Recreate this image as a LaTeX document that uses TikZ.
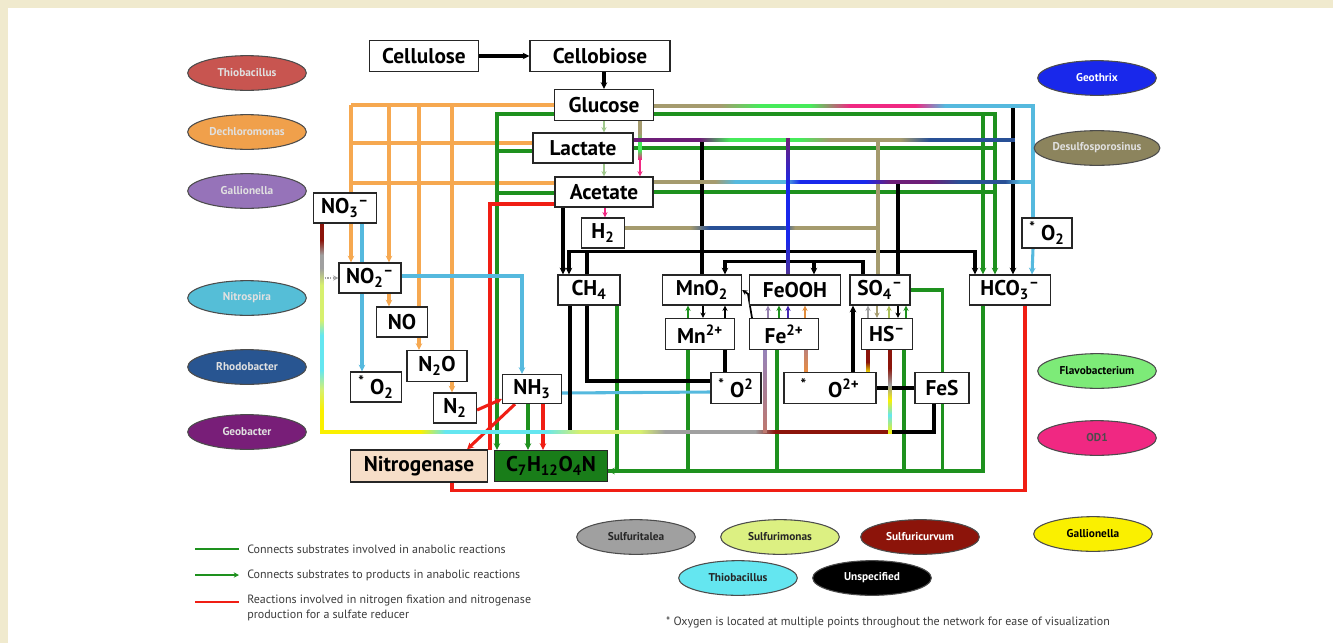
\documentclass[tikz,border=0pt]{standalone}
\usepackage{fontspec}
\setmainfont{PT Sans}
\usetikzlibrary{arrows.meta,shapes.geometric,calc}
\pgfdeclarelayer{back}
\pgfdeclarelayer{bg}
\pgfsetlayers{back,bg,main}
\definecolor{beige}{RGB}{240,234,206}
\definecolor{cOrange}{RGB}{246,168,80}
\definecolor{cLBlue}{RGB}{85,185,222}
\definecolor{cGreen}{RGB}{30,145,30}
\definecolor{cRed}{RGB}{240,30,20}
\definecolor{cOlive}{RGB}{165,155,110}
\definecolor{cPurple}{RGB}{110,30,120}
\definecolor{cNeon}{RGB}{70,235,90}
\definecolor{cPink}{RGB}{240,40,130}
\definecolor{cBlue}{RGB}{25,40,235}
\definecolor{cDBlue}{RGB}{40,80,150}
\definecolor{cDRed}{RGB}{140,20,10}
\definecolor{cGray}{RGB}{160,160,160}
\definecolor{cLYG}{RGB}{215,240,110}
\definecolor{cCyan}{RGB}{100,230,240}
\definecolor{cYellow}{RGB}{250,240,0}
\definecolor{cPeach}{RGB}{246,222,200}
\definecolor{cDGreen}{RGB}{25,125,25}
\definecolor{cThio}{RGB}{200,85,80}
\definecolor{cDech}{RGB}{240,160,75}
\definecolor{cGall}{RGB}{150,115,185}
\definecolor{cNitro}{RGB}{85,190,215}
\definecolor{cRhodo}{RGB}{40,85,145}
\definecolor{cGeob}{RGB}{120,30,120}
\definecolor{cFlavo}{RGB}{125,235,120}
\definecolor{cSulfi}{RGB}{220,240,130}
\definecolor{cTxt}{RGB}{60,60,60}
\newcommand\hg[5]{\shade[left color=#4,right color=#5] (#2,#1-1.8) rectangle (#3,#1+1.8);}
\newcommand\vg[5]{\shade[top color=#4,bottom color=#5] (#1-1.8,#2) rectangle (#1+1.8,#3);}
\begin{document}
\begin{tikzpicture}[x=0.75pt,y=-0.75pt,
  box/.style={draw=black!85,fill=white,line width=0.9pt,inner sep=0pt,font=\fontsize{16}{18}\selectfont\bfseries},
  wh/.style 2 args={minimum width=#1*0.75pt,minimum height=#2*0.75pt},
  sx/.style={xshift=#1*0.75pt},
  sy/.style={yshift=#1*0.75pt},
  con/.style={line width=2.3pt},
  arw/.style={-{Stealth[length=5pt,width=5pt]}},
  arwb/.style={{Stealth[length=5pt,width=5pt]}-{Stealth[length=5pt,width=5pt]}},
  arwr/.style={{Stealth[length=5pt,width=5pt]}-},
  sm/.style={line width=1.8pt,-{Stealth[length=4pt,width=4pt]}},
  org/.style={con,draw=cOrange},
  lbl/.style={con,draw=cLBlue},
  grn/.style={con,draw=cGreen},
  rdl/.style={con,draw=cRed},
  blk/.style={con,draw=black},
  olv/.style={con,draw=cOlive},
  bug/.style={ellipse,draw=black!70,line width=0.8pt,minimum width=89pt,minimum height=26pt,inner sep=0pt,font=\fontsize{8.5}{10}\selectfont\bfseries},
  leg/.style={font=\fontsize{9}{11}\selectfont,text=cTxt,inner sep=0pt}
]
\begin{pgfonlayer}{back}
\fill[beige] (0,0) rectangle (1333,643);
\fill[white] (8,8) rectangle (1333,643);
\end{pgfonlayer}
\useasboundingbox (0,0) rectangle (1333,643);

% ---------------- nodes ----------------
\node[box,wh={109}{31}] (cellulose) at (424,56) {Cellulose};
\node[box,wh={140}{31}] (cellobiose) at (600,56) {Cellobiose};
\node[box,wh={99}{31}] (glucose) at (604,105) {Glucose};
\node[box,wh={100}{30}] (lactate) at (583,148) {Lactate};
\node[box,wh={98}{30}] (acetate) at (604,192) {Acetate};
\node[box,wh={43}{30}] (h2) at (603,233) {H\textsubscript{2}};
\node[box,wh={63}{30}] (no3) at (345,208) {NO\textsubscript{3}\textsuperscript{–}};
\node[box,wh={62}{30}] (no2) at (370,278) {NO\textsubscript{2}\textsuperscript{–}};
\node[box,wh={51}{30}] (no) at (402,322) {NO};
\node[box,wh={60}{31}] (n2o) at (437,366) {N\textsubscript{2}O};
\node[box,wh={51}{30}] (o2a) at (376,387) {\textsuperscript{*} O\textsubscript{2}};
\node[box,wh={43}{30}] (n2) at (455,408) {N\textsubscript{2}};
\node[box,wh={59}{29}] (nh3) at (532,389) {NH\textsubscript{3}};
\node[box,fill=cPeach,wh={137}{32}] (nitrogenase) at (419,466) {Nitrogenase};
\node[box,fill=cDGreen,wh={113}{31}] (c7) at (551,466) {C\textsubscript{7}H\textsubscript{12}O\textsubscript{4}N};
\node[box,wh={62}{30}] (ch4) at (589,290) {CH\textsubscript{4}};
\node[box,wh={79}{30}] (mno2) at (702,290) {MnO\textsubscript{2}};
\node[box,wh={91}{30}] (feooh) at (795,290) {FeOOH};
\node[box,wh={60}{30}] (so4) at (880,290) {SO\textsubscript{4}\textsuperscript{–}};
\node[box,wh={81}{30}] (hco3) at (1010,290) {HCO\textsubscript{3}\textsuperscript{–}};
\node[box,wh={69}{31}] (mn2) at (700,334) {Mn\textsuperscript{2+}};
\node[box,wh={69}{31}] (fe2) at (784,334) {Fe\textsuperscript{2+}};
\node[box,wh={51}{31}] (hs) at (887,334) {HS\textsuperscript{–}};
\node[box,wh={50}{31}] (o2b) at (736,388) {\textsuperscript{*} O\textsuperscript{2}};
\node[box,wh={92}{31}] (o2c) at (830,388) {\textsuperscript{*}\quad O\textsuperscript{2+}};
\node[box,wh={54}{31}] (fes) at (942,388) {FeS};
\node[box,wh={50}{30}] (o2d) at (1047,233) {\textsuperscript{*} O\textsubscript{2}};

% junction coordinates
\coordinate (oA) at (351,105);
\coordinate (oA2) at (351,143);
\coordinate (oA3) at (351,183);
\coordinate (oB) at (389,105);
\coordinate (oC) at (419,105);
\coordinate (oD) at (452,105);
\coordinate (gL) at (497,151);
\coordinate (gA) at (497,193);
\coordinate (gR) at (995,148);
\coordinate (gR2) at (995,192);
\coordinate (g983) at (983,114);
\coordinate (rEnd) at (490,450);
\coordinate (bl1) at (702,140);
\coordinate (bl2) at (898,182);
\coordinate (bl3) at (1013,108);
\coordinate (fd) at (814,262);
\coordinate (olvT) at (878,140);
\coordinate (lbT) at (1033,106);
\coordinate (hsB) at (888,432);
\coordinate (dotS) at (322,278);
\coordinate (pk) at (640,158);

\begin{pgfonlayer}{bg}
% orange (denitrification)
\draw[org] (glucose.west) -- (oA);
\draw[org] ([sy=5]lactate.west) -- (oA2);
\draw[org] ([sy=9]acetate.west) -- (oA3);
\draw[org,arw] (oA) -- ([sx=-19]no2.north);
\draw[org,arw] (oB) -- ([sx=19]no2.north);
\draw[org,arw] ([sx=19]no2.south) -- ([sx=-13]no.north);
\draw[org,arw] (oC) -- ([sx=-18]n2o.north);
\draw[org,arw] (oD) -- ([sx=-3]n2.north);

% green frame
\draw[grn,arw] ([sy=-9]glucose.west) -| ([sx=-54]c7.north);
\draw[grn] ([sy=-3]lactate.west) -- (gL);
\draw[grn] ([sy=-1]acetate.west) -- (gA);
\draw[grn,arw] ([sy=-9]glucose.east) -| ([sx=-15]hco3.north);
\draw[grn,arw] (g983) -- ([sx=-27]hco3.north);
\draw[grn] (lactate.east) -- (gR);
\draw[grn] (acetate.east) -- (gR2);
\draw[grn,arwr] ([sy=-5]c7.east) -| ([sx=-27]hco3.south);
\draw[grn] ([sx=28]ch4.south) |- ([sy=-5]c7.east);
\draw[grn] ([sx=-12]mn2.south) |- ([sy=-5]c7.east);
\draw[grn] ([sx=-7]fe2.south) |- ([sy=-5]c7.east);
\draw[grn] ([sx=17]hs.south) |- ([sy=-5]c7.east);
\draw[grn] (so4.east) -- ++(32,0) |- ([sy=-5]c7.east);
\draw[grn,arw] ([sx=-4]nh3.south) -- ([sx=-23]c7.north);
\draw[grn,sm] ([sx=-12]mn2.north) -- ([sx=-14]mno2.south);

% red
\draw[rdl] ([sy=-12]acetate.west) -| (rEnd);
\draw[rdl,arw] ([sy=-2]n2.east) -- ([sy=-10]nh3.west);
\draw[rdl,arw] ([sx=-17]nh3.south) -- ([sx=48]nitrogenase.north);
\draw[rdl,arw] ([sx=11]nh3.south) -- ([sx=-8]c7.north);
\draw[rdl] ([sx=33]nitrogenase.south) -- ++(0,8) -| ([sx=15]hco3.south);

% light blue
\draw[lbl,arw] ([sx=17]no3.south) -- ([sx=-14]o2a.north);
\draw[lbl,arw] ([sy=2]no2.east) -| ([sx=-10]nh3.north);
\draw[lbl] ([sy=-4]nh3.east) -- ([sy=-4]o2b.west);
\draw[lbl] (lbT) -- ([sx=-14]o2d.north);
\draw[lbl,arw] ([sx=-14]o2d.south) -- ([sx=22]hco3.north);

% black
\draw[line width=3pt,arw] (cellulose) -- (cellobiose);
\draw[blk,arw] ([sx=4]cellobiose.south) -- (glucose.north);
\draw[blk,arw] ([sx=-41]acetate.south) -- ([sx=-26]ch4.north);
\draw[blk,arwb] ([sx=-20]ch4.north) -- ++(0,-23) -| ([sx=-35]hco3.north);
\draw[blk] ([sx=-2]ch4.north) -- ++(0,-23);
\draw[blk] ([sx=-19]ch4.south) -- ++(0,127);
\draw[blk] ([sx=-2]ch4.south) |- ([sy=7]o2b.west);
\draw[blk,arw] ([sx=-17]so4.north) -- ++(0,-13) -| ([sx=23]mno2.north);
\draw[blk,arw] (fd) -- ([sx=19]feooh.north);
\draw[blk] (bl1) -- (mno2.north);
\draw[blk] (bl2) -- ([sx=18]so4.north);
\draw[blk,arw] (bl3) -- ([sx=3]hco3.north);
\draw[blk,sm] ([sx=1]mno2.south) -- ([sx=3]mn2.north);
\draw[blk,sm] ([sx=25]mn2.north) -- ([sx=23]mno2.south);
\draw[blk] ([sx=-11]o2b.north) -- ([sx=25]mn2.south);
\draw[line width=1.3pt,-{Stealth[length=4pt,width=4pt]}] ([sx=-32]fe2.north) -- ++(-4,-24) -- (mno2.east);
\draw[blk,arw] ([sx=23]o2c.north) -- ([sx=-27]so4.south);
\draw[blk] (o2c.east) -- (fes.west);
\draw[blk] (hsB) -| ([sx=-8]fes.south);
\draw[sm,draw=black] ([sx=18]so4.south) -- ([sx=11]hs.north);

% olive
\draw[olv] (olvT) -- ([sx=-2]so4.north);
\draw[sm,draw=cOlive] ([sx=-3]so4.south) -- ([sx=-10]hs.north);

% small coloured arrows Fe2+ -> FeOOH and HS- -> SO4-
\draw[sm,draw={rgb,255:red,150;green,130;blue,175}] ([sx=-16]fe2.north) -- ([sx=-27]feooh.south);
\draw[sm,draw=cGreen] ([sx=-5]fe2.north) -- ([sx=-16]feooh.south);
\draw[sm,draw={rgb,255:red,70;green,40;blue,180}] ([sx=4]fe2.north) -- ([sx=-7]feooh.south);
\draw[sm,draw={rgb,255:red,225;green,140;blue,60}] ([sx=21]fe2.north) -- ([sx=10]feooh.south);
\draw[sm,draw=cGray] ([sx=-19]hs.north) -- ([sx=-12]so4.south);
\draw[sm,draw=cLYG!80!black] ([sx=2]hs.north) -- ([sx=9]so4.south);
\draw[sm,draw=cGreen] ([sx=19]hs.north) -- ([sx=26]so4.south);

% small arrows between sugars
\draw[sm,draw={rgb,255:red,160;green,200;blue,140}] (glucose.south) -- ([sx=21]lactate.north);
\draw[sm,draw={rgb,255:red,160;green,200;blue,140}] ([sx=21]lactate.south) -- (acetate.north);
\draw[sm,draw=cPink] ([sx=1]acetate.south) -- ([sx=2]h2.north);
\draw[sm,draw=cPink] (pk) -- ([sx=36]acetate.north);
\draw[line width=1pt,densely dotted,draw=cGray,-{Stealth[length=4pt,width=4pt]}] (dotS) -- (no2.west);

% multicoloured rows (shaded)
\vg{640}{121}{133}{cOlive}{cOlive}
\vg{640}{133}{142}{cOlive}{cNeon}
\vg{640}{142}{150}{cNeon}{cNeon}
\vg{640}{150}{159}{cNeon}{cPink}
\hg{106}{653}{720}{cOlive}{cOlive}
\hg{106}{720}{760}{cOlive}{cNeon}
\hg{106}{760}{810}{cNeon}{cNeon}
\hg{106}{810}{850}{cNeon}{cPink}
\hg{106}{850}{915}{cPink}{cPink}
\hg{106}{915}{945}{cPink}{cLBlue}
\hg{106}{945}{1034.8}{cLBlue}{cLBlue}
\hg{140}{633}{700}{cPurple}{cPurple}
\hg{140}{700}{730}{cPurple}{cNeon}
\hg{140}{730}{800}{cNeon}{cNeon}
\hg{140}{800}{830}{cNeon}{cOlive}
\hg{140}{830}{900}{cOlive}{cOlive}
\hg{140}{900}{930}{cOlive}{cDBlue}
\hg{140}{930}{1014.8}{cDBlue}{cDBlue}
\hg{182}{653}{715}{cOlive}{cOlive}
\hg{182}{715}{735}{cOlive}{cLBlue}
\hg{182}{735}{785}{cLBlue}{cLBlue}
\hg{182}{785}{800}{cLBlue}{cBlue}
\hg{182}{800}{865}{cBlue}{cBlue}
\hg{182}{865}{890}{cBlue}{cPurple}
\hg{182}{890}{930}{cPurple}{cPurple}
\hg{182}{930}{960}{cPurple}{cDBlue}
\hg{182}{960}{1005}{cDBlue}{cDBlue}
\hg{182}{1005}{1020}{cDBlue}{cLBlue}
\hg{182}{1020}{1034.8}{cLBlue}{cLBlue}
\hg{228}{625}{690}{cOlive}{cOlive}
\hg{228}{690}{710}{cOlive}{cDBlue}
\hg{228}{710}{783}{cDBlue}{cDBlue}
\hg{228}{783}{795}{cDBlue}{cOlive}
\hg{228}{795}{879.8}{cOlive}{cOlive}
\vg{788}{138.2}{185}{cPurple}{cBlue}
\vg{788}{185}{240}{cBlue}{cBlue}
\vg{788}{240}{275}{cBlue}{{rgb,255:red,80;green,50;blue,150}}
% left vertical and bottom line
\vg{322}{223}{240}{cDRed}{cDRed}
\vg{322}{240}{255}{cDRed}{cGray}
\vg{322}{255}{268}{cGray}{cGray}
\vg{322}{268}{285}{cGray}{cLYG}
\vg{322}{285}{320}{cLYG}{cLYG}
\vg{322}{320}{335}{cLYG}{cCyan}
\vg{322}{335}{370}{cCyan}{cCyan}
\vg{322}{370}{390}{cCyan}{cLYG}
\vg{322}{390}{410}{cLYG}{cYellow}
\vg{322}{410}{433.8}{cYellow}{cYellow}
\hg{432}{320.2}{420}{cYellow}{cYellow}
\hg{432}{420}{445}{cYellow}{cCyan}
\hg{432}{445}{545}{cCyan}{cCyan}
\hg{432}{545}{580}{cCyan}{cLYG}
\hg{432}{580}{640}{cLYG}{cLYG}
\hg{432}{640}{665}{cLYG}{cGray}
\hg{432}{665}{755}{cGray}{cGray}
\hg{432}{755}{775}{cGray}{cDRed}
\hg{432}{775}{889.8}{cDRed}{cDRed}
\vg{765}{350}{432}{{rgb,255:red,150;green,130;blue,185}}{{rgb,255:red,190;green,120;blue,110}}
\vg{806}{350}{373}{{rgb,255:red,190;green,130;blue,120}}{{rgb,255:red,235;green,140;blue,60}}
\vg{868}{350}{362}{cDRed}{cDRed}
\vg{868}{362}{373}{cDRed}{cYellow}
\vg{890}{350}{368}{cDRed}{cDRed}
\vg{890}{368}{385}{cDRed}{cGray}
\vg{890}{385}{400}{cGray}{cYellow}
\vg{890}{400}{415}{cYellow}{cCyan}
\vg{890}{415}{433.8}{cCyan}{cYellow}
\end{pgfonlayer}

% ---------------- organisms ----------------
\node[bug,fill=cThio,text=white!88!black] (e1) at (247,73) {Thiobacillus};
\node[bug,fill=cDech,text=white!88!black] (e2) at (247,132) {Dechloromonas};
\node[bug,fill=cGall,text=white!88!black] (e3) at (247,191) {Gallionella};
\node[bug,fill=cNitro,text=white!88!black] (e4) at (247,298) {Nitrospira};
\node[bug,fill=cRhodo,text=white!88!black] (e5) at (247,367) {Rhodobacter};
\node[bug,fill=cGeob,text=white!88!black] (e6) at (247,432) {Geobacter};
\node[bug,fill=cBlue,text=white] (e7) at (1097,78) {Geothrix};
\node[bug,fill=cOlive!85!black,text=white!88!black] (e8) at (1097,148) {Desulfosporosinus};
\node[bug,fill=cFlavo,text=black] (e9) at (1097,371) {Flavobacterium};
\node[bug,fill=cPink,text=black!70] (e10) at (1097,438) {OD1};
\node[bug,fill=cYellow,text=black] (e11) at (1093,534) {Gallionella};
\node[bug,fill=cGray,text=black!85] (e12) at (636,537) {Sulfuritalea};
\node[bug,fill=cSulfi,text=black!85] (e13) at (780,537) {Sulfurimonas};
\node[bug,fill=cDRed,text=white] (e14) at (920,537) {Sulfuricurvum};
\node[bug,fill=cCyan,text=black!85] (e15) at (738,578) {Thiobacillus};
\node[bug,fill=black,text=white] (e16) at (872,578) {Unspecified};

% ---------------- legend ----------------
\coordinate (l1a) at (195,549); \coordinate (l1b) at (239,549);
\coordinate (l2a) at (195,575); \coordinate (l2b) at (239,575);
\coordinate (l3a) at (195,602); \coordinate (l3b) at (239,602);
\draw[grn,line width=1.8pt] (l1a) -- (l1b);
\draw[grn,line width=1.8pt,-{Stealth[length=4pt,width=4pt]}] (l2a) -- (l2b);
\draw[rdl,line width=1.8pt] (l3a) -- (l3b);
\node[leg,anchor=west] (t1) at (247,549) {Connects substrates involved in anabolic reactions};
\node[leg,anchor=west] (t2) at (247,575) {Connects substrates to products in anabolic reactions};
\node[leg,anchor=north west,align=left] (t3) at (247,595) {Reactions involved in nitrogen fixation and nitrogenase\\production for a sulfate reducer};
\node[leg] (t4) at (888,622) {* Oxygen is located at multiple points throughout the network for ease of visualization};
\end{tikzpicture}
\end{document}
